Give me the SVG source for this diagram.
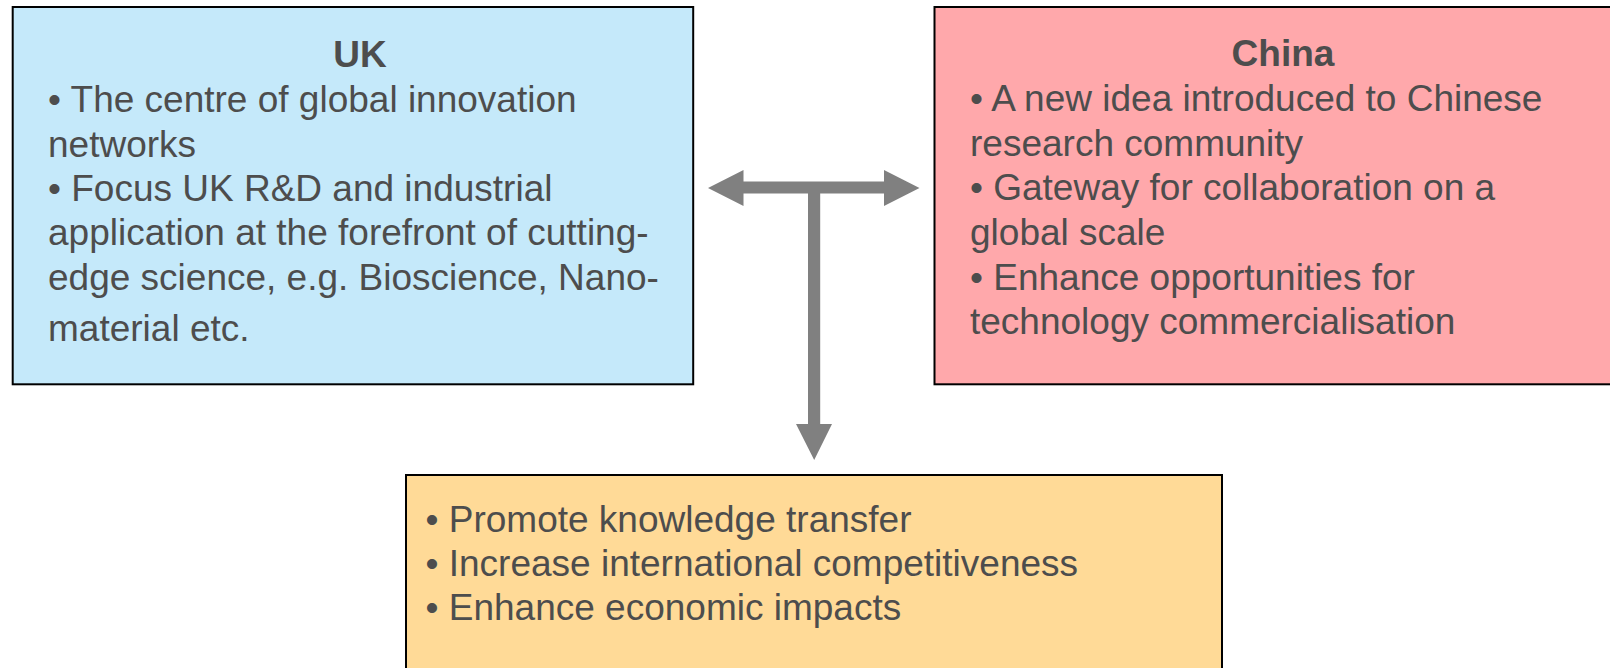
<svg xmlns="http://www.w3.org/2000/svg" width="1610" height="668" viewBox="0 0 1610 668">
<style>
.box{stroke:#000;stroke-width:2}
.t{font-family:"Liberation Sans",Arial,sans-serif;font-size:37px;fill:#4d4d4d}
.h{font-weight:bold;text-anchor:middle}
.arrow{fill:#808080}
</style>
<rect width="1610" height="668" fill="#fff"/>
<g id="uk">
<rect class="box" x="12.7" y="7" width="680.5" height="377.3" fill="#c5e9fa"/>
<text class="t h" x="360" y="66.5">UK</text>
<text class="t" x="48" y="111.7">• The centre of global innovation</text>
<text class="t" x="48" y="156.5">networks</text>
<text class="t" x="48" y="200.7">• Focus UK R&amp;D and industrial</text>
<text class="t" x="48" y="245">application at the forefront of cutting-</text>
<text class="t" x="48" y="290">edge science, e.g. Bioscience, Nano-</text>
<text class="t" x="48" y="340.5">material etc.</text>
</g>
<g id="china">
<rect class="box" x="934.5" y="7" width="680" height="377.3" fill="#ffa8ab"/>
<text class="t h" x="1283" y="65.5">China</text>
<text class="t" x="970" y="110.7">• A new idea introduced to Chinese</text>
<text class="t" x="970" y="156">research community</text>
<text class="t" x="970" y="199.5">• Gateway for collaboration on a</text>
<text class="t" x="970" y="244.5">global scale</text>
<text class="t" x="970" y="289.5">• Enhance opportunities for</text>
<text class="t" x="970" y="333.5">technology commercialisation</text>
</g>
<g id="outcomes">
<rect class="box" x="406" y="475" width="816" height="200" fill="#ffda97"/>
<text class="t" x="425.5" y="531.7">• Promote knowledge transfer</text>
<text class="t" x="425.5" y="576.3">• Increase international competitiveness</text>
<text class="t" x="425.5" y="620">• Enhance economic impacts</text>
</g>
<g id="connectors">
<path class="arrow" d="M708,188 L743.5,170 L743.5,181.5 L884,181.5 L884,170 L919.5,188 L884,206 L884,193.5 L820.2,193.5 L820.2,424 L832,424 L814.2,460 L796,424 L808,424 L808,193.5 L743.5,193.5 L743.5,206 Z"/>
</g>
</svg>
